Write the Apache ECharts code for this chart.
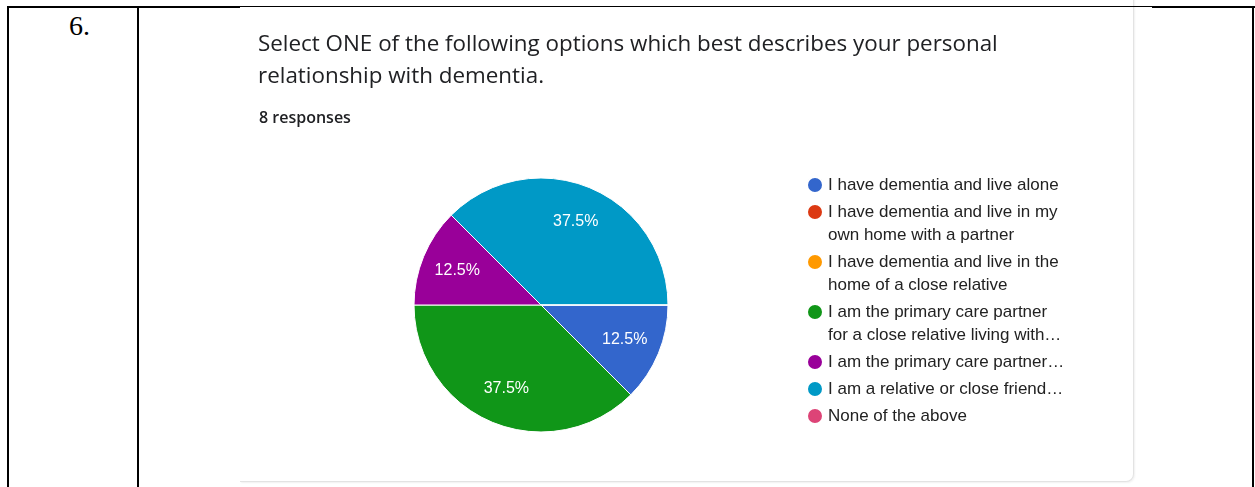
<!DOCTYPE html>
<html>
<head>
<meta charset="utf-8">
<script src="https://cdn.jsdelivr.net/npm/echarts@6/dist/echarts.min.js"></script>
<style>
  html, body { margin: 0; padding: 0; background: #fff; }
  #page { position: relative; width: 1255px; height: 487px; overflow: hidden; background: #fff; }
  .card { position: absolute; left: 240px; top: -30px; width: 893px; height: 510px;
          border: 1px solid #e3e3e3; border-left: none; border-radius: 0 0 8px 0;
          box-shadow: 1px 1px 2px rgba(0,0,0,0.06); background: #fff; }
  .rule { position: absolute; background: #000; }
  .num { position: absolute; left: 69px; top: 10px; font-family: "Liberation Serif", "DejaVu Serif", serif;
         font-size: 28px; color: #000; }
  #chart { position: absolute; left: 0; top: 0; width: 1255px; height: 487px; }
</style>
</head>
<body>
<div id="page">
  <div class="card"></div>
  <!-- table frame -->
  <div class="rule" style="left:7px; top:6px; width:233px; height:2px;"></div>
  <div class="rule" style="left:240px; top:6px; width:912px; height:1px;"></div>
  <div class="rule" style="left:1152px; top:6px; width:103px; height:2px;"></div>
  <div class="rule" style="left:7px; top:6px; width:2px; height:481px;"></div>
  <div class="rule" style="left:137px; top:6px; width:2px; height:481px;"></div>
  <div class="rule" style="left:1252px; top:6px; width:2px; height:481px;"></div>
  <div class="num">6.</div>
  <div id="chart"></div>
</div>
<script>
// Question text and response count
const questionText = 'Select ONE of the following options which best describes your personal\nrelationship with dementia.';
const responsesText = '8 responses';

// Answer options (line breaks as wrapped in the legend)
const categories = [
  'I have dementia and live alone',
  'I have dementia and live in my\nown home with a partner',
  'I have dementia and live in the\nhome of a close relative',
  'I am the primary care partner\nfor a close relative living with…',
  'I am the primary care partner…',
  'I am a relative or close friend…',
  'None of the above'
];

// Share of responses per option (%)
const shares = [12.5, 0, 0, 37.5, 12.5, 37.5, 0];

// Slice colours
const colors = ['#3366cc', '#dc3912', '#ff9900', '#109618', '#990099', '#0099c6', '#dd4477'];

const chart = echarts.init(document.getElementById('chart'), null, { renderer: 'canvas' });

const pieCenter = [541, 305];
const pieRadius = 127;

const data = categories.map((name, i) => ({
  name: name,
  value: shares[i],
  itemStyle: { color: colors[i] }
}));

// Legend: one block per option, stacked by line count. Blank lines are
// prepended so the text block stays centred on the icon's first line.
const legendLineH = 23;
const legendGap = 4;
const legendFirstCenter = 185;
const legends = [];
let lineCenter = legendFirstCenter;
categories.forEach((name, i) => {
  const lines = name.split('\n').length;
  const lead = '\n'.repeat(lines - 1);
  legends.push({
    data: [name],
    left: 806,
    top: lineCenter - (lines - 1) * legendLineH - legendLineH / 2,
    orient: 'vertical',
    padding: 0,
    itemGap: 0,
    itemWidth: 16,
    itemHeight: 16,
    icon: 'circle',
    selectedMode: false,
    formatter: n => lead + n,
    textStyle: {
      fontFamily: '"Liberation Sans", Arial, sans-serif',
      fontSize: 17,
      color: '#222222',
      lineHeight: legendLineH
    }
  });
  lineCenter += lines * legendLineH + legendGap;
});

chart.setOption({
  animation: false,
  title: [
    {
      text: questionText,
      left: 258,
      top: 29,
      padding: 0,
      textStyle: {
        fontFamily: '"Open Sans", Roboto, sans-serif',
        fontSize: 22.4,
        fontWeight: 'normal',
        color: '#202124',
        lineHeight: 32
      }
    },
    {
      text: responsesText,
      left: 259,
      top: 108,
      padding: 0,
      textStyle: {
        fontFamily: '"Open Sans", Roboto, sans-serif',
        fontSize: 16,
        fontWeight: 600,
        color: '#202124',
        lineHeight: 20
      }
    }
  ],
  legend: legends,
  series: [
    {
      type: 'pie',
      center: pieCenter,
      radius: [0, pieRadius],
      startAngle: 0,
      clockwise: true,
      avoidLabelOverlap: false,
      label: { show: false },
      labelLine: { show: false },
      itemStyle: { borderColor: '#ffffff', borderWidth: 1 },
      emphasis: { disabled: true },
      data: data
    },
    {
      // percentage labels placed at about 70% of the radius
      type: 'pie',
      center: pieCenter,
      radius: [pieRadius * 0.38, pieRadius],
      startAngle: 0,
      clockwise: true,
      silent: true,
      avoidLabelOverlap: false,
      itemStyle: { color: 'transparent', borderWidth: 0 },
      labelLine: { show: false },
      emphasis: { disabled: true },
      label: {
        show: true,
        position: 'inside',
        color: '#ffffff',
        fontFamily: '"Liberation Sans", Arial, sans-serif',
        fontSize: 16,
        formatter: p => (p.value > 0 ? p.value.toFixed(1) + '%' : '')
      },
      data: categories.map((name, i) => ({ name: name, value: shares[i] }))
    }
  ]
});
</script>
</body>
</html>
